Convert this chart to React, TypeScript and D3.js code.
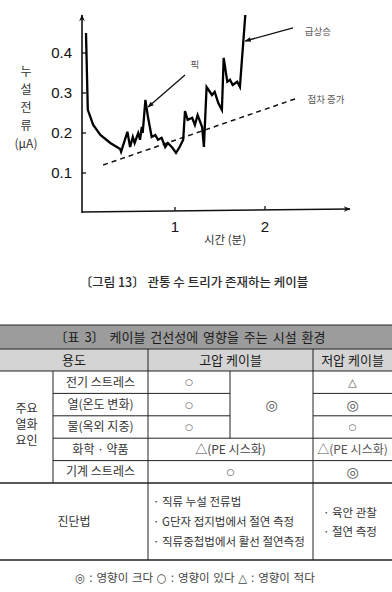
import * as d3 from "d3";

// leakage current curve, time (min) vs current (µA)
const curveT = [0, 0.02, 0.08, 0.16, 0.27, 0.38, 0.39, 0.46, 0.49, 0.52, 0.54, 0.58, 0.6, 0.62, 0.63, 0.66, 0.69, 0.73, 0.77, 0.8, 0.84, 0.88, 0.91, 0.96, 1.0, 1.04, 1.08, 1.1, 1.13, 1.18, 1.21, 1.24, 1.29, 1.31, 1.34, 1.4, 1.43, 1.47, 1.51, 1.53, 1.57, 1.6, 1.63, 1.68, 1.71, 1.77];
const curveI = [0.45, 0.258, 0.22, 0.195, 0.175, 0.16, 0.153, 0.203, 0.165, 0.19, 0.175, 0.2, 0.183, 0.215, 0.2, 0.283, 0.238, 0.19, 0.195, 0.183, 0.188, 0.165, 0.175, 0.163, 0.15, 0.165, 0.183, 0.255, 0.233, 0.238, 0.22, 0.245, 0.215, 0.165, 0.315, 0.295, 0.303, 0.275, 0.258, 0.388, 0.328, 0.333, 0.32, 0.328, 0.315, 0.495];

// gradual increase trend (dashed)
const trendT = [0.19, 2.36];
const trendI = [0.12, 0.288];

const yTicks = [0.1, 0.2, 0.3, 0.4];
const xTicks = [1, 2];
const yTitle = ["누", "설", "전", "류", "(μA)"];

// annotations: label, label pos, arrow tail, arrow head
const notes = [
  { label: "픽", lt: 1.16, li: 0.37, from: [1.1, 0.345], to: [0.69, 0.265] },
  { label: "급상승", lt: 2.43, li: 0.453, from: [2.3, 0.463], to: [1.77, 0.43] },
  { label: "점차 증가", lt: 2.46, li: 0.283, from: null, to: null },
];

// table
const tableTitle = "〔표 3〕 케이블 건선성에 영향을 주는 시설 환경";
const headers = ["용도", "고압 케이블", "저압 케이블"];
const groupLabel = ["주요", "열화", "요인"];
const rowLabels = ["전기 스트레스", "열(온도 변화)", "물(옥외 지중)", "화학 · 약품", "기계 스트레스"];
const highA = ["○", "○", "○"];
const highMerged = "◎";
const highWide = ["△(PE 시스화)", "○"];
const lowCol = ["△", "◎", "○", "△(PE 시스화)", "◎"];
const diagLabel = "진단법";
const highDiag = ["· 직류 누설 전류법", "· G단자 접지법에서 절연 측정", "· 직류중첩법에서 활선 절연측정"];
const lowDiag = ["· 육안 관찰", "· 절연 측정"];
const legendText = "◎ : 영향이 크다  ○ : 영향이 있다  △ : 영향이 적다";
const caption = "〔그림 13〕 관통 수 트리가 존재하는 케이블";

const KR = "'Noto Sans CJK KR', 'Noto Sans', sans-serif";
const NUM = "'Liberation Sans', Arial, sans-serif";
const SYM = "'DejaVu Sans', 'Noto Sans CJK KR', sans-serif";

export default function App() {
  const W = 392;
  const H = 592;

  const x = d3.scaleLinear().domain([0, 2]).range([86, 266]);
  const y = d3.scaleLinear().domain([0, 0.4]).range([213, 53]);
  const axisX = 82;
  const axisY = 212;

  const line = d3
    .line<number>()
    .x((_, i) => x(curveT[i]))
    .y((d) => y(d));
  const trend = d3
    .line<number>()
    .x((_, i) => x(trendT[i]))
    .y((d) => y(d));

  // table geometry
  const cols = [0, 53, 148, 230, 313, 392];
  const rowY = d3.scaleBand<string>().domain(rowLabels).range([371, 483]);
  const rh = rowY.bandwidth();
  const cx = (a: number, b: number) => (cols[a] + cols[b]) / 2;
  const ink = "#222";
  const txt = "#333";
  const symSize = (v: string) => (v.length > 1 ? 12 : v === "○" ? 9 : v === "◎" ? 14 : 11);
  const symFont = (v: string) => (v.length > 1 ? KR : SYM);

  return (
    <svg
      width={W}
      height={H}
      style={{ position: "absolute", left: 0, top: 0, background: "#fff" }}
    >
      <defs>
        <marker id="ah" viewBox="0 0 10 10" refX="9" refY="5" markerWidth="9" markerHeight="6" orient="auto" markerUnits="userSpaceOnUse">
          <path d="M0,1 L10,5 L0,9 Z" fill="#111" />
        </marker>
        <marker id="axh" viewBox="0 0 10 10" refX="9" refY="5" markerWidth="10" markerHeight="7" orient="auto" markerUnits="userSpaceOnUse">
          <path d="M0,1 L10,5 L0,9 L3,5 Z" fill="#111" />
        </marker>
      </defs>

      {/* axes */}
      <line x1={axisX} y1={axisY + 1} x2={axisX} y2={15} stroke="#111" strokeWidth={1.6} markerEnd="url(#axh)" />
      <line x1={axisX} y1={axisY} x2={350} y2={axisY - 3} stroke="#111" strokeWidth={1.6} markerEnd="url(#axh)" />
      {yTicks.map((t) => (
        <g key={t}>
          <line x1={axisX} x2={axisX + 4} y1={y(t)} y2={y(t)} stroke="#111" strokeWidth={1.3} />
          <text x={72} y={y(t)} dy="0.36em" textAnchor="end" fontFamily={NUM} fontSize={15} fill="#111">
            {t.toFixed(1)}
          </text>
        </g>
      ))}
      {xTicks.map((t) => (
        <g key={t}>
          <line x1={x(t) - 1} x2={x(t) - 1} y1={axisY - 4 - (x(t) - axisX) * 0.011} y2={axisY - (x(t) - axisX) * 0.011} stroke="#111" strokeWidth={1.3} />
          <text x={x(t) - 1} y={232} textAnchor="middle" fontFamily={NUM} fontSize={15} fill="#111">
            {t}
          </text>
        </g>
      ))}
      {yTitle.map((s, i) => (
        <text key={s} x={26} y={72 + i * 17.8} dy="0.36em" textAnchor="middle" fontFamily={KR} fontSize={12} fill={txt}>
          {s}
        </text>
      ))}
      <text x={225} y={244} textAnchor="middle" fontFamily={KR} fontSize={11.5} fill={txt}>
        시간 (분)
      </text>

      {/* data */}
      <path d={trend(trendI) ?? ""} fill="none" stroke="#111" strokeWidth={1.5} strokeDasharray="5,4" />
      <path d={line(curveI) ?? ""} fill="none" stroke="#000" strokeWidth={2.3} strokeLinejoin="miter" />

      {notes.map((n) => (
        <g key={n.label}>
          {n.from && n.to && (
            <line x1={x(n.from[0])} y1={y(n.from[1])} x2={x(n.to[0])} y2={y(n.to[1])} stroke="#111" strokeWidth={1.3} markerEnd="url(#ah)" />
          )}
          <text x={x(n.lt)} y={y(n.li)} dy="0.36em" fontFamily={KR} fontSize={9.5} fill="#555">
            {n.label}
          </text>
        </g>
      ))}

      <text x={194} y={287} textAnchor="middle" fontFamily={KR} fontSize={12.5} fontWeight={500} fill="#2a2a2a">
        {caption}
      </text>

      {/* table */}
      <rect x={0} y={325} width={W} height={24} fill="#9c9c9c" />
      <rect x={0} y={349} width={W} height={22} fill="#d4d4d4" />
      <line x1={0} x2={W} y1={325} y2={325} stroke={ink} strokeWidth={1.2} />
      <line x1={0} x2={W} y1={349} y2={349} stroke={ink} strokeWidth={1} />
      <text x={190} y={337} dy="0.36em" textAnchor="middle" fontFamily={KR} fontSize={13} fill="#1a1a1a" wordSpacing={2}>
        {tableTitle}
      </text>
      {headers.map((h, i) => {
        const a = i === 0 ? 0 : i === 1 ? 2 : 4;
        const b = i === 0 ? 2 : i === 1 ? 4 : 5;
        return (
          <text key={h} x={cx(a, b)} y={360} dy="0.36em" textAnchor="middle" fontFamily={KR} fontSize={13} fill="#1a1a1a">
            {h}
          </text>
        );
      })}
      <line x1={0} x2={W} y1={371} y2={371} stroke={ink} strokeWidth={1.2} />

      {/* row lines */}
      {rowLabels.slice(0, -1).map((r, i) => {
        const yy = (rowY(r) ?? 0) + rh;
        return i < 2 ? (
          <g key={r}>
            <line x1={cols[1]} x2={cols[3]} y1={yy} y2={yy} stroke={ink} strokeWidth={1} />
            <line x1={cols[4]} x2={W} y1={yy} y2={yy} stroke={ink} strokeWidth={1} />
          </g>
        ) : (
          <line key={r} x1={cols[1]} x2={W} y1={yy} y2={yy} stroke={ink} strokeWidth={1} />
        );
      })}
      {/* vertical lines */}
      <line x1={cols[1]} x2={cols[1]} y1={371} y2={483} stroke={ink} strokeWidth={1} />
      <line x1={cols[2]} x2={cols[2]} y1={349} y2={560} stroke={ink} strokeWidth={1} />
      <line x1={cols[3]} x2={cols[3]} y1={371} y2={(rowY(rowLabels[2]) ?? 0) + rh} stroke={ink} strokeWidth={1} />
      <line x1={cols[4]} x2={cols[4]} y1={349} y2={560} stroke={ink} strokeWidth={1} />

      {groupLabel.map((g, i) => (
        <text key={g} x={cx(0, 1)} y={409 + i * 16} dy="0.36em" textAnchor="middle" fontFamily={KR} fontSize={12} fill={txt}>
          {g}
        </text>
      ))}
      {rowLabels.map((r) => (
        <text key={r} x={cx(1, 2)} y={(rowY(r) ?? 0) + rh / 2} dy="0.36em" textAnchor="middle" fontFamily={KR} fontSize={12} fill={txt}>
          {r}
        </text>
      ))}
      {highA.map((v, i) => (
        <text key={i} x={cx(2, 3)} y={(rowY(rowLabels[i]) ?? 0) + rh / 2} dy="0.36em" textAnchor="middle" fontFamily={symFont(v)} fontSize={symSize(v)} fill="#555">
          {v}
        </text>
      ))}
      <text x={cx(3, 4)} y={(rowY(rowLabels[0]) ?? 0) + rh * 1.5} dy="0.36em" textAnchor="middle" fontFamily={SYM} fontSize={symSize(highMerged)} fill="#555">
        {highMerged}
      </text>
      {highWide.map((v, i) => (
        <text key={i} x={cx(2, 4)} y={(rowY(rowLabels[3 + i]) ?? 0) + rh / 2} dy="0.36em" textAnchor="middle" fontFamily={symFont(v)} fontSize={symSize(v)} fill="#444">
          {v}
        </text>
      ))}
      {lowCol.map((v, i) => (
        <text key={i} x={cx(4, 5)} y={(rowY(rowLabels[i]) ?? 0) + rh / 2} dy="0.36em" textAnchor="middle" fontFamily={symFont(v)} fontSize={symSize(v)} fill="#555">
          {v}
        </text>
      ))}

      <line x1={0} x2={W} y1={483} y2={483} stroke={ink} strokeWidth={1.3} />
      <text x={cx(0, 2)} y={522} dy="0.36em" textAnchor="middle" fontFamily={KR} fontSize={12} fill={txt}>
        {diagLabel}
      </text>
      {highDiag.map((s, i) => (
        <text key={s} x={153} y={502 + i * 20} dy="0.36em" fontFamily={KR} fontSize={11.5} fill={txt}>
          {s}
        </text>
      ))}
      {lowDiag.map((s, i) => (
        <text key={s} x={323} y={513 + i * 19} dy="0.36em" fontFamily={KR} fontSize={11.5} fill={txt}>
          {s}
        </text>
      ))}
      <line x1={0} x2={W} y1={560} y2={560} stroke={ink} strokeWidth={1.3} />

      <text x={195} y={578} dy="0.36em" textAnchor="middle" fontFamily={SYM} fontSize={11.5} fill="#444">
        {legendText}
      </text>
    </svg>
  );
}
